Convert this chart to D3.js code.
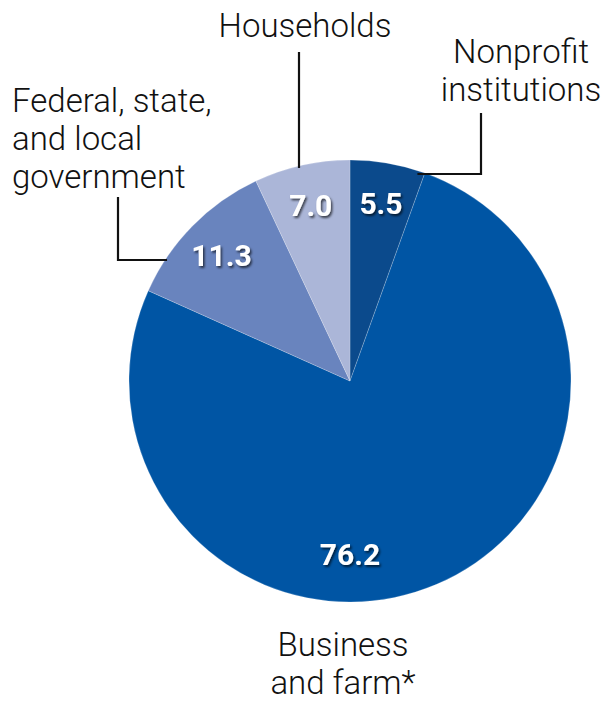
<!DOCTYPE html>
<html>
<head>
<meta charset="utf-8">
<script src="https://cdn.jsdelivr.net/npm/d3@7"></script>
<style>
  html, body { margin: 0; padding: 0; background: #fff; }
  svg { display: block; }
</style>
</head>
<body>
<svg id="chart" width="605" height="701"></svg>
<script>
// Shares of the total, clockwise from 12 o'clock
const sectors = ["Nonprofit institutions", "Business and farm*", "Federal, state, and local government", "Households"];
const shares = [5.5, 76.2, 11.3, 7.0];
const sectorColors = ["#0b4a8c", "#0055a4", "#6984be", "#abb6d8"];
// Outside captions, one array of lines per sector
const captionLines = [
  ["Nonprofit", "institutions"],
  ["Business", "and farm*"],
  ["Federal, state,", "and local", "government"],
  ["Households"]
];

const svg = d3.select("#chart");
const cx = 350, cy = 381, radius = 221;

const defs = svg.append("defs");
const shadow = defs.append("filter").attr("id", "numShadow")
  .attr("x", "-30%").attr("y", "-30%").attr("width", "160%").attr("height", "160%");
shadow.append("feDropShadow")
  .attr("dx", 1.5).attr("dy", 2).attr("stdDeviation", 1.2)
  .attr("flood-color", "#000").attr("flood-opacity", 0.65);

const data = sectors.map((s, i) => ({ sector: s, value: shares[i], color: sectorColors[i], lines: captionLines[i] }));

const pie = d3.pie().value(d => d.value).sort(null);
const arcs = pie(data);
const arc = d3.arc().innerRadius(0).outerRadius(radius);

const g = svg.append("g").attr("transform", `translate(${cx},${cy})`);

g.selectAll("path.slice")
  .data(arcs)
  .join("path")
  .attr("class", "slice")
  .attr("d", arc)
  .attr("fill", d => d.data.color)
  .attr("stroke", "rgba(255,255,255,0.35)")
  .attr("stroke-width", 0.6);

// Value labels: small slices at their mid angle, the dominant slice at 6 o'clock
const maxVal = d3.max(shares);
function labelPos(d) {
  const big = d.data.value === maxVal;
  const a = big ? Math.PI : (d.startAngle + d.endAngle) / 2;
  const r = big ? 173 : 180;
  return [Math.sin(a) * r, -Math.cos(a) * r];
}

g.selectAll("text.value")
  .data(arcs)
  .join("text")
  .attr("class", "value")
  .attr("x", d => labelPos(d)[0])
  .attr("y", d => labelPos(d)[1])
  .attr("dy", "0.36em")
  .attr("text-anchor", "middle")
  .attr("font-family", "Roboto, 'DejaVu Sans', sans-serif")
  .attr("font-weight", "bold")
  .attr("font-size", 30)
  .attr("fill", "#fff")
  .attr("filter", "url(#numShadow)")
  .text(d => d3.format(".1f")(d.data.value));

// x where a horizontal line at height y meets the pie rim (side = +1 right, -1 left)
const rimX = (y, side) => cx + side * Math.sqrt(radius * radius - (y - cy) * (y - cy));

// Leader lines from slice edges to the outside captions
const leaders = svg.append("g")
  .attr("fill", "none").attr("stroke", "#111").attr("stroke-width", 2.2);

// Nonprofit: elbow from just inside the rim up to the caption
leaders.append("path").attr("d", `M${rimX(174, 1) - 10},174H481V113`);
// Government: elbow to the left and up
leaders.append("path").attr("d", `M${rimX(260, -1) + 2},260H118V197`);
// Households: straight up from the rim
leaders.append("path").attr("d", `M299,${cy - Math.sqrt(radius * radius - (299 - cx) * (299 - cx)) + 2}V52`);

// Captions
const captionLayout = [
  { x: 521, y: 63, anchor: "middle" },
  { x: 343, y: 656, anchor: "middle" },
  { x: 12, y: 112, anchor: "start" },
  { x: 305, y: 37, anchor: "middle" }
];
const lineGap = 38;

svg.append("g").selectAll("text.caption")
  .data(data)
  .join("text")
  .attr("class", "caption")
  .attr("x", (d, i) => captionLayout[i].x)
  .attr("y", (d, i) => captionLayout[i].y)
  .attr("text-anchor", (d, i) => captionLayout[i].anchor)
  .attr("font-family", "Roboto, 'DejaVu Sans', sans-serif")
  .attr("font-weight", 300)
  .attr("font-size", 33)
  .attr("fill", "#111")
  .each(function(d, i) {
    d3.select(this).selectAll("tspan")
      .data(d.lines)
      .join("tspan")
      .attr("x", captionLayout[i].x)
      .attr("dy", (l, j) => j === 0 ? 0 : lineGap)
      .text(l => l);
  });
</script>
</body>
</html>
